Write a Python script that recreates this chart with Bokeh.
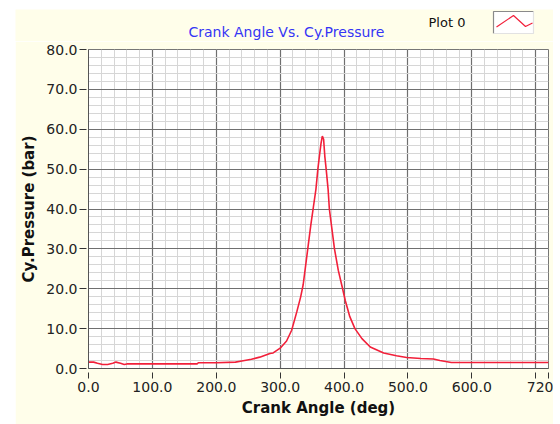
from bokeh.plotting import figure
from bokeh.models import FixedTicker, Range1d, Spacer
from bokeh.layouts import column, row
from bokeh.core.properties import value
from bokeh.embed import file_html
from bokeh.resources import INLINE

# Data
crank_angle = [0, 8, 14, 22, 30, 38, 43, 50, 56, 60, 100, 170, 172, 200, 230, 240,
               255, 268, 284, 289, 300, 310, 318, 326, 332, 336, 340, 344, 348,
               352, 356, 359, 362, 364, 366, 368, 370, 372, 375, 377, 381, 385, 391, 396,
               402, 409, 417, 428, 441, 462, 482, 498, 520, 540, 550, 568, 720]
cyl_pressure = [1.6, 1.6, 1.3, 1.0, 1.0, 1.3, 1.6, 1.3, 1.0, 1.15, 1.15, 1.15, 1.45, 1.45, 1.6, 1.9,
                2.3, 2.85, 3.75, 3.9, 5.1, 6.9, 9.6, 14.2, 17.9, 21.0, 26.0, 31.0, 36.0,
                40.5, 45.0, 50.0, 54.0, 56.5, 58.3, 57.5, 53.0, 50.0, 45.0, 40.0, 35.0, 30.0, 24.6, 21.2,
                17.0, 13.0, 10.0, 7.5, 5.4, 3.9, 3.2, 2.75, 2.5, 2.4, 2.0, 1.5, 1.5]

x_major = [0, 100, 200, 300, 400, 500, 600, 700, 720]
x_labels = {0: "0.0", 100: "100.0", 200: "200.0", 300: "300.0", 400: "400.0",
            500: "500.0", 600: "600.0", 700: "", 720: "720"}
x_minor = list(range(0, 721, 20))
y_major = [0, 10, 20, 30, 40, 50, 60, 70, 80]
y_labels = {v: f"{v:.1f}" for v in y_major}
y_minor = list(range(0, 81, 2))

title_text = "Crank Angle Vs. Cy.Pressure"
legend_text = "Plot 0"
x_title = "Crank Angle (deg)"
y_title = "Cy.Pressure (bar)"

# legend sample (zig-zag) in header pixel space
zig_x = [481, 498, 510, 517]
zig_y = [14.5, 26, 15, 18.5]

FONT = "DejaVu Sans"
BG = "#fffeea"
RED = "#f2203a"

# ---------- header strip with title and legend ----------
top = figure(width=538, height=32, output_backend="svg", toolbar_location=None,
             x_range=Range1d(0, 538), y_range=Range1d(0, 32), min_border=0)
top.axis.visible = False
top.grid.visible = False
top.outline_line_color = None
top.background_fill_color = BG
top.border_fill_color = BG
top.text(x=[173], y=[10], text=[title_text], text_font=value(FONT), text_font_size="14px",
         text_color="#3535f5", text_baseline="middle", text_align="left")
top.text(x=[413], y=[19], text=[legend_text], text_font=value(FONT), text_font_size="13px",
         text_color="#111111", text_baseline="middle", text_align="left")
top.quad(left=[478], right=[518], bottom=[8], top=[30], fill_color="white", line_color=None)
top.line([478, 478, 518], [8, 30, 30], line_color="#8a8a8a", line_width=1.2)
top.line([478, 518, 518], [8, 8, 30], line_color="#e2e2e2", line_width=1.2)
top.line(zig_x, zig_y, line_color=RED, line_width=1.2)

# ---------- main chart ----------
p = figure(width=538, height=383, output_backend="svg", toolbar_location=None,
           x_range=Range1d(0, 720), y_range=Range1d(0, 80),
           min_border_left=73, min_border_right=5, min_border_top=8, min_border_bottom=56)
p.border_fill_color = BG
p.background_fill_color = "white"
p.outline_line_color = "#777777"

for ax in (p.xaxis[0], p.yaxis[0]):
    ax.major_label_text_font = FONT
    ax.major_label_text_font_size = "14px"
    ax.major_label_text_color = "#222222"
    ax.axis_label_text_font = FONT
    ax.axis_label_text_font_size = "15px"
    ax.axis_label_text_font_style = "bold"
    ax.axis_label_text_color = "#111111"
    ax.axis_line_color = "#555555"
    ax.major_tick_line_color = "#333333"
    ax.minor_tick_in = 0
    ax.minor_tick_out = 0

xa = p.xaxis[0]
xa.ticker = FixedTicker(ticks=x_major, minor_ticks=x_minor)
xa.major_label_overrides = x_labels
xa.axis_label = x_title
xa.major_tick_in = -4
xa.major_tick_out = 10
xa.major_label_standoff = 3
xa.axis_label_standoff = 4

ya = p.yaxis[0]
ya.ticker = FixedTicker(ticks=y_major, minor_ticks=y_minor)
ya.major_label_overrides = y_labels
ya.axis_label = y_title
ya.major_tick_in = -2
ya.major_tick_out = 9
ya.major_label_standoff = 2
ya.axis_label_standoff = 5

p.xgrid[0].ticker = FixedTicker(ticks=x_major, minor_ticks=x_minor)
p.ygrid[0].ticker = FixedTicker(ticks=y_major, minor_ticks=y_minor)
for g in (p.xgrid[0], p.ygrid[0]):
    g.grid_line_color = "#6f6f6f"
    g.grid_line_width = 1.2
    g.minor_grid_line_color = "#d6d6d6"
    g.minor_grid_line_width = 1

p.line(crank_angle, cyl_pressure, line_color=RED, line_width=1.6)

layout = column(Spacer(height=9),
                row(Spacer(width=15), top),
                row(Spacer(width=15), p))

open("out.html", "w").write(file_html(layout, INLINE))
